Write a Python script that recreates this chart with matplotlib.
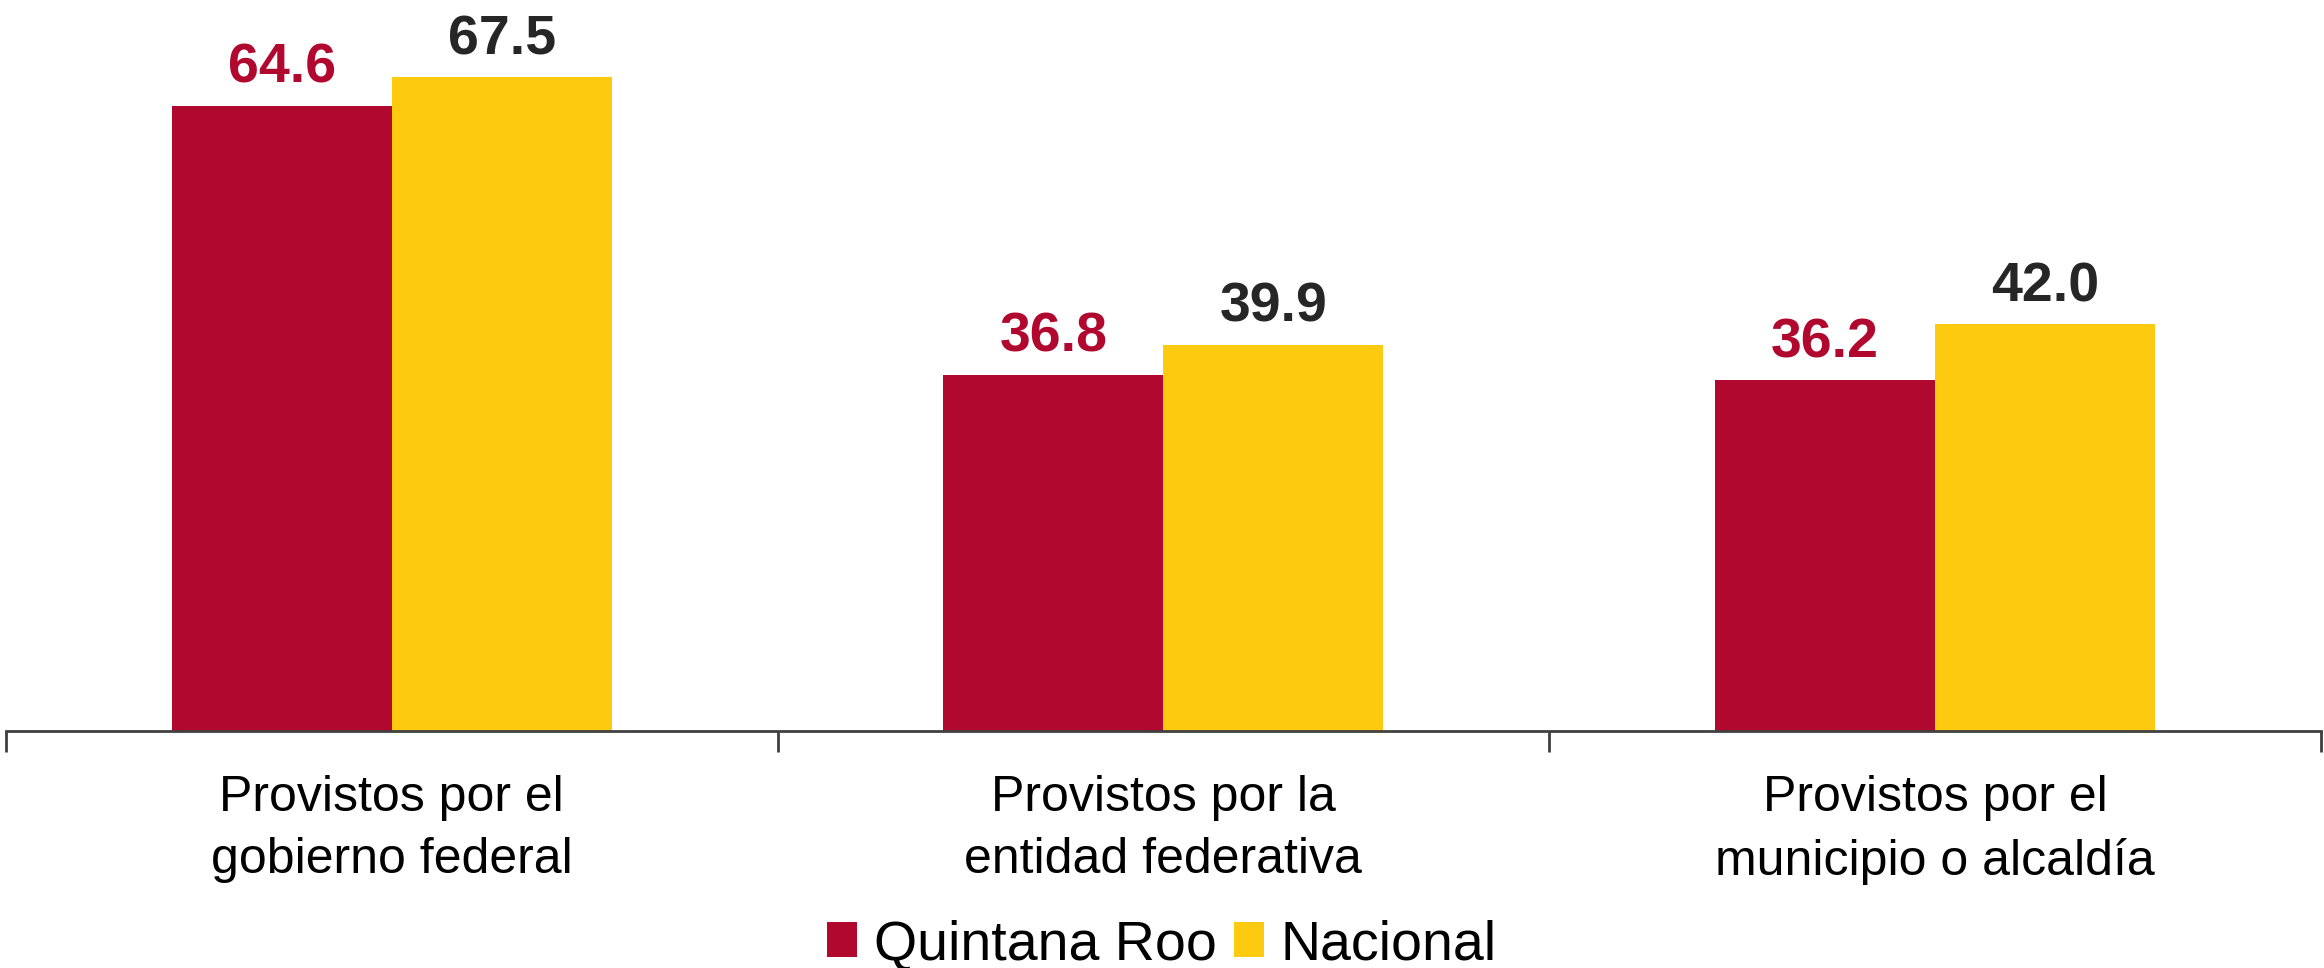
import matplotlib.pyplot as plt
import numpy as np

categories = ["Provistos por el\ngobierno federal",
              "Provistos por la\nentidad federativa",
              "Provistos por el\nmunicipio o alcaldía"]
series_names = ["Quintana Roo", "Nacional"]
quintana_roo = [64.6, 36.8, 36.2]
nacional = [67.5, 39.9, 42.0]

bar_colors = ["#B0082E", "#FDCA10"]
label_colors = ["#B0082E", "#262626"]

plt.rcParams['font.family'] = ['Liberation Sans', 'DejaVu Sans']

fig = plt.figure(figsize=(23.24, 9.68), dpi=100, facecolor="w")
ax = fig.add_axes([0.0026, 0.245, 0.996, 0.75])

x = np.arange(len(categories))
width = 0.285
bars = []
for i, (vals, name) in enumerate(zip([quintana_roo, nacional], series_names)):
    offset = (i - 0.5) * width
    b = ax.bar(x + offset, vals, width, color=bar_colors[i], label=name)
    bars.append(b)
    for rect, v in zip(b, vals):
        ax.annotate(f"{v:.1f}", (rect.get_x() + rect.get_width() / 2, v),
                    xytext=(0, 8), textcoords="offset points",
                    ha="center", va="bottom", fontsize=40, fontweight="bold",
                    color=label_colors[i])

ax.set_xlim(-0.5, len(categories) - 0.5)
ax.set_ylim(0, 75)

for side in ["top", "right", "left"]:
    ax.spines[side].set_visible(False)
ax.spines["bottom"].set_color("#404040")
ax.spines["bottom"].set_linewidth(2)
ax.set_yticks([])

ax.set_xticks(x)
ax.set_xticklabels(categories, fontsize=36, linespacing=1.45)
ax.tick_params(axis="x", which="major", length=0, pad=32)
ax.set_xticks(np.arange(-0.5, len(categories), 1), minor=True)
ax.tick_params(axis="x", which="minor", length=15, width=2, color="#404040",
               direction="out")

fig.legend(handles=bars, labels=series_names, loc="lower center",
           bbox_to_anchor=(0.5, -0.055), ncol=2, frameon=False, fontsize=40,
           handlelength=0.55, handleheight=0.6, handletextpad=0.3,
           columnspacing=0.3)

fig.savefig("out.png", dpi=100)
